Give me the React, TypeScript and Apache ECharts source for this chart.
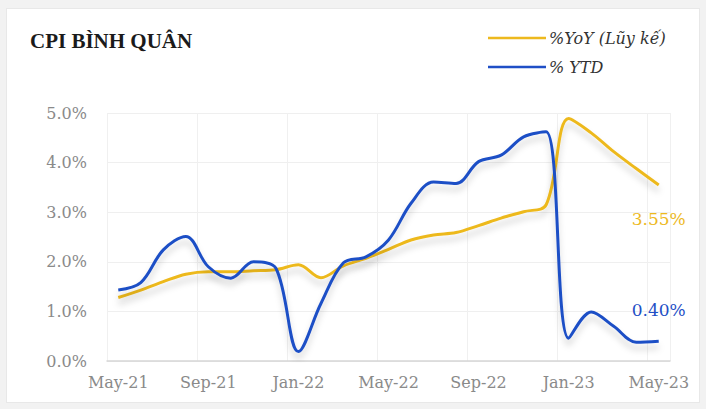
import React, { useEffect, useRef } from "react";
import * as echarts from "echarts";

const months = [
  "May-21", "Jun-21", "Jul-21", "Aug-21", "Sep-21", "Oct-21", "Nov-21", "Dec-21",
  "Jan-22", "Feb-22", "Mar-22", "Apr-22", "May-22", "Jun-22", "Jul-22", "Aug-22",
  "Sep-22", "Oct-22", "Nov-22", "Dec-22", "Jan-23", "Feb-23", "Mar-23", "Apr-23", "May-23",
];

const yoyCumulative = [
  1.28, 1.43, 1.6, 1.75, 1.8, 1.8, 1.82, 1.84,
  1.94, 1.68, 1.92, 2.07, 2.25, 2.44, 2.54, 2.59,
  2.73, 2.88, 3.01, 3.15, 4.89, 4.6, 4.22, 3.88, 3.55,
];

const ytd = [
  1.43, 1.58, 2.24, 2.51, 1.9, 1.67, 2.0, 1.87,
  0.19, 1.16, 1.98, 2.1, 2.44, 3.18, 3.61, 3.58,
  4.02, 4.15, 4.52, 4.62, 0.46, 0.99, 0.7, 0.38, 0.4,
];

const yTicks = [0, 1, 2, 3, 4, 5];

const YELLOW = "#EDB91E";
const BLUE = "#1F4FC6";

export default function App() {
  const ref = useRef<HTMLDivElement>(null);

  useEffect(() => {
    if (!ref.current) return;
    const chart = echarts.init(ref.current, undefined, { renderer: "svg" });
    const last = months.length - 1;

    const lineSeries = (name: string, vals: number[], color: string, pos: string, dist: number, z: number) => ({
      name,
      type: "line",
      smooth: 0.35,
      symbol: "none",
      color,
      lineStyle: {
        width: 3,
        color,
        shadowColor: "rgba(0,0,0,0.18)",
        shadowBlur: 6,
        shadowOffsetY: 6,
      },
      data: vals,
      markPoint: {
        symbol: "circle",
        symbolSize: 2,
        itemStyle: { color: "rgba(0,0,0,0)" },
        label: {
          show: true,
          position: pos,
          distance: dist,
          formatter: vals[last].toFixed(2) + "%",
          color,
          fontSize: 17,
          fontFamily: "DejaVu Serif",
        },
        data: [{ coord: [last, vals[last]], value: vals[last] }],
      },
      z,
    });

    chart.setOption({
      animation: false,
      backgroundColor: "transparent",
      title: {
        text: "CPI BÌNH QUÂN",
        left: 25,
        top: 25,
        textStyle: {
          fontFamily: "Liberation Serif",
          fontWeight: "bold",
          fontSize: 21,
          color: "#1a1a1a",
        },
      },
      legend: {
        orient: "vertical",
        left: 483,
        top: 25,
        itemWidth: 58,
        itemHeight: 14,
        itemGap: 13,
        textStyle: {
          fontFamily: "DejaVu Serif",
          fontStyle: "italic",
          fontSize: 16,
          color: "#333",
          padding: [0, 0, 0, -2],
        },
        data: [
          { name: "%YoY (Lũy kế)", icon: "path://M0,6 L58,6 L58,8.5 L0,8.5 Z" },
          { name: "% YTD", icon: "path://M0,6 L58,6 L58,8.5 L0,8.5 Z" },
        ],
      },
      grid: { left: 107, right: 36, top: 113, bottom: 48 },
      xAxis: {
        type: "category",
        data: months,
        boundaryGap: true,
        axisTick: { show: false, interval: 3 },
        axisLine: { lineStyle: { color: "#d6d6d6", width: 1.5 } },
        axisLabel: {
          interval: 3,
          color: "#8a8a8a",
          fontSize: 16,
          fontFamily: "DejaVu Serif",
          margin: 13,
        },
        splitLine: { show: true, interval: 3, lineStyle: { color: "#f0f0f0" } },
      },
      yAxis: {
        type: "value",
        min: yTicks[0],
        max: yTicks[yTicks.length - 1],
        interval: 1,
        axisLine: { show: false },
        axisTick: { show: false },
        axisLabel: {
          formatter: (v: number) => v.toFixed(1) + "%",
          color: "#8a8a8a",
          fontSize: 16,
          fontFamily: "DejaVu Serif",
          margin: 20,
        },
        splitLine: { lineStyle: { color: "#efefef" } },
      },
      series: [
        lineSeries("%YoY (Lũy kế)", yoyCumulative, YELLOW, "bottom", 25, 3),
        lineSeries("% YTD", ytd, BLUE, "top", 22, 4),
      ],
    });
    return () => chart.dispose();
  }, []);

  return (
    <div
      style={{
        position: "fixed",
        left: 0,
        top: 0,
        width: 706,
        height: 409,
        background: "#f2f2f2",
      }}
    >
      <div
        style={{
          position: "absolute",
          left: 6,
          top: 8,
          width: 694,
          height: 395,
          background: "#ffffff",
          border: "1px solid #e8e8e8",
          boxSizing: "border-box",
        }}
      />
      <div
        ref={ref}
        style={{ position: "absolute", left: 0, top: 0, width: 706, height: 409 }}
      />
    </div>
  );
}
